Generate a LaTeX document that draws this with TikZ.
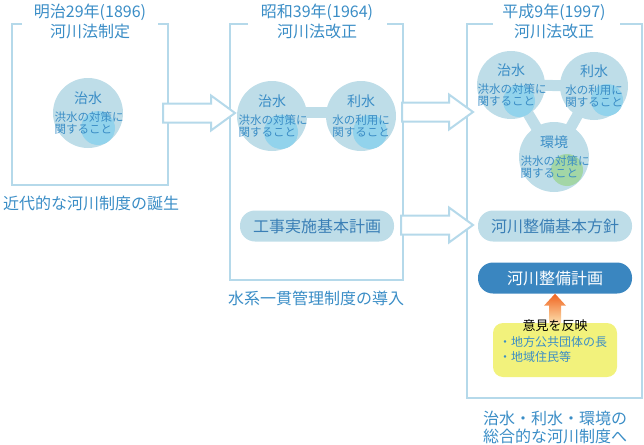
\documentclass[tikz,border=0pt]{standalone}
\usepackage{fontspec}
\usetikzlibrary{calc}
\newfontfamily\jp{Noto Sans CJK JP}
\definecolor{frameblue}{HTML}{B5D9EA}
\definecolor{textblue}{HTML}{3A8DC6}
\definecolor{bubfill}{HTML}{BEDDE8}
\definecolor{bubinner}{HTML}{92D3EC}
\definecolor{bubgreen}{HTML}{A3D6A6}
\definecolor{pilltext}{HTML}{3A7FB6}
\definecolor{pilldarkfill}{HTML}{3A86C0}
\definecolor{noteyellow}{HTML}{F2F27C}
\definecolor{arrowtop}{HTML}{F06420}
\definecolor{arrowbot}{HTML}{FCE2B0}
\def\panel(#1:#2:#3:#4:#5){\draw[frame] (#4,24) -- (#1,24) -- (#1,#3) -- (#2,#3) -- (#2,24) -- (#5,24);}
\def\blockarrow(#1:#2:#3){\draw[hollow] (#1,#3-9.5) -- (#2-24,#3-9.5) -- (#2-24,#3-17.5) -- (#2,#3) -- (#2-24,#3+17.5) -- (#2-24,#3+9.5) -- (#1,#3+9.5) -- cycle;}
\tikzset{
  frame/.style={draw=frameblue, line width=2pt},
  hollow/.style={draw=frameblue, fill=white, line width=2pt, line join=miter},
  title/.style={font=\jp\fontsize{16}{16}\selectfont, text=textblue, inner sep=0pt},
  bubble/.style={circle, fill=bubfill, minimum size=70pt, inner sep=0pt},
  bubhead/.style={font=\jp\fontsize{14}{14}\selectfont, text=textblue, inner sep=0pt},
  bubsub/.style={font=\jp\fontsize{11.5}{11.5}\selectfont, text=textblue, align=left, inner sep=0pt},
  link/.style={draw=bubfill, line width=11pt},
  pill/.style={rectangle, rounded corners=15pt, fill=bubfill, minimum width=154pt, minimum height=31pt,
    font=\jp\fontsize{16}{16}\selectfont, text=pilltext},
  pilldark/.style={pill, fill=pilldarkfill, text=white},
  note/.style={rectangle, rounded corners=10pt, fill=noteyellow, minimum width=124pt, minimum height=54pt},
  noteitem/.style={font=\jp\fontsize{12}{12}\selectfont, text=textblue, inner sep=0pt, anchor=west}
}
\begin{document}
\begin{tikzpicture}[x=1pt, y=-1pt]
  \useasboundingbox (0,0) rectangle (644,444);

  % panels
  \panel(12:168:185:22:158)
  \panel(230:403:280:248:387)
  \panel(467:642:398:493:620)

  \node[title] (year1) at (90,12) {明治29年(1896)};
  \node[title] (law1) at (90,31) {河川法制定};
  \node[title] (year2) at (317,12) {昭和39年(1964)};
  \node[title] (law2) at (317,31) {河川法改正};
  \node[title] (year3) at (554,12) {平成9年(1997)};
  \node[title] (law3) at (554,31) {河川法改正};

  % 1896
  \node[bubble] (chisuiA) at (88,113) {};
  \fill[bubinner] ($(chisuiA)+(10,15)$) circle (17pt);
  \node[bubhead] at ($(chisuiA)+(0,-15)$) {治水};
  \node[bubsub] at ($(chisuiA)+(1,10)$) {洪水の対策に\\関すること};
  \node[title] (birth) at (91,203) {近代的な河川制度の誕生};

  % 1964
  \draw[link] (272,112) -- (361,112);
  \node[bubble] (chisuiB) at (272,116) {};
  \node[bubble] (risuiB) at (361,116) {};
  \fill[bubinner] ($(chisuiB)+(9,16)$) circle (17pt);
  \fill[bubinner] ($(risuiB)+(9,16)$) circle (17pt);
  \node[bubhead] at ($(chisuiB)+(0,-15)$) {治水};
  \node[bubsub] at ($(chisuiB)+(1,10)$) {洪水の対策に\\関すること};
  \node[bubhead] at ($(risuiB)+(0,-15)$) {利水};
  \node[bubsub] at ($(risuiB)+(0,10)$) {水の利用に\\関すること};
  \node[pill] (koji) at (317,226) {工事実施基本計画};
  \node[title] (suikei) at (316,298) {水系一貫管理制度の導入};

  % 1997
  \coordinate (chisuiC) at (511,85);
  \coordinate (risuiC) at (594,86);
  \coordinate (kankyoC) at (554,157);
  \draw[link] (chisuiC) -- (risuiC) -- (kankyoC) -- cycle;
  \node[bubble, minimum size=68pt] (chisuiCb) at (chisuiC) {};
  \node[bubble, minimum size=68pt] (risuiCb) at (risuiC) {};
  \node[bubble] (kankyoCb) at (kankyoC) {};
  \fill[bubinner] ($(chisuiC)+(8,16)$) circle (16pt);
  \fill[bubinner] ($(risuiC)+(13,14)$) circle (16pt);
  \fill[bubgreen] ($(kankyoC)+(13,13)$) circle (16pt);
  \node[bubhead] at ($(chisuiC)+(0,-15)$) {治水};
  \node[bubsub] at ($(chisuiC)+(1,10)$) {洪水の対策に\\関すること};
  \node[bubhead] at ($(risuiC)+(0,-15)$) {利水};
  \node[bubsub] at ($(risuiC)+(0,10)$) {水の利用に\\関すること};
  \node[bubhead] at ($(kankyoC)+(0,-15)$) {環境};
  \node[bubsub] at ($(kankyoC)+(1,10)$) {洪水の対策に\\関すること};

  \node[pill] (hoshin) at (555,226) {河川整備基本方針};
  \node[pilldark] (keikaku) at (555,278) {河川整備計画};
  \node[note] (jumin) at (555,350) {};
  \shade[top color=arrowtop, bottom color=arrowbot]
    (keikaku.south) -- ($(keikaku.south)+(11,12)$) -- ($(keikaku.south)+(6,12)$) -- ($(keikaku.south)+(6,30)$)
    -- ($(keikaku.south)+(-6,30)$) -- ($(keikaku.south)+(-6,12)$) -- ($(keikaku.south)+(-11,12)$) -- cycle;
  \node[font=\jp\fontsize{13}{13}\selectfont, inner sep=0pt] (iken) at (555,326) {意見を反映};
  \node[noteitem] (choA) at (499,342) {・地方公共団体の長};
  \node[noteitem] (choB) at (499,357) {・地域住民等};
  \node[title] (sogo1) at (555,418) {治水・利水・環境の};
  \node[title] (sogo2) at (555,436) {総合的な河川制度へ};

  % arrows between panels
  \blockarrow(163:235:113)
  \blockarrow(402:473:112)
  \blockarrow(401:473:225)
\end{tikzpicture}
\end{document}
